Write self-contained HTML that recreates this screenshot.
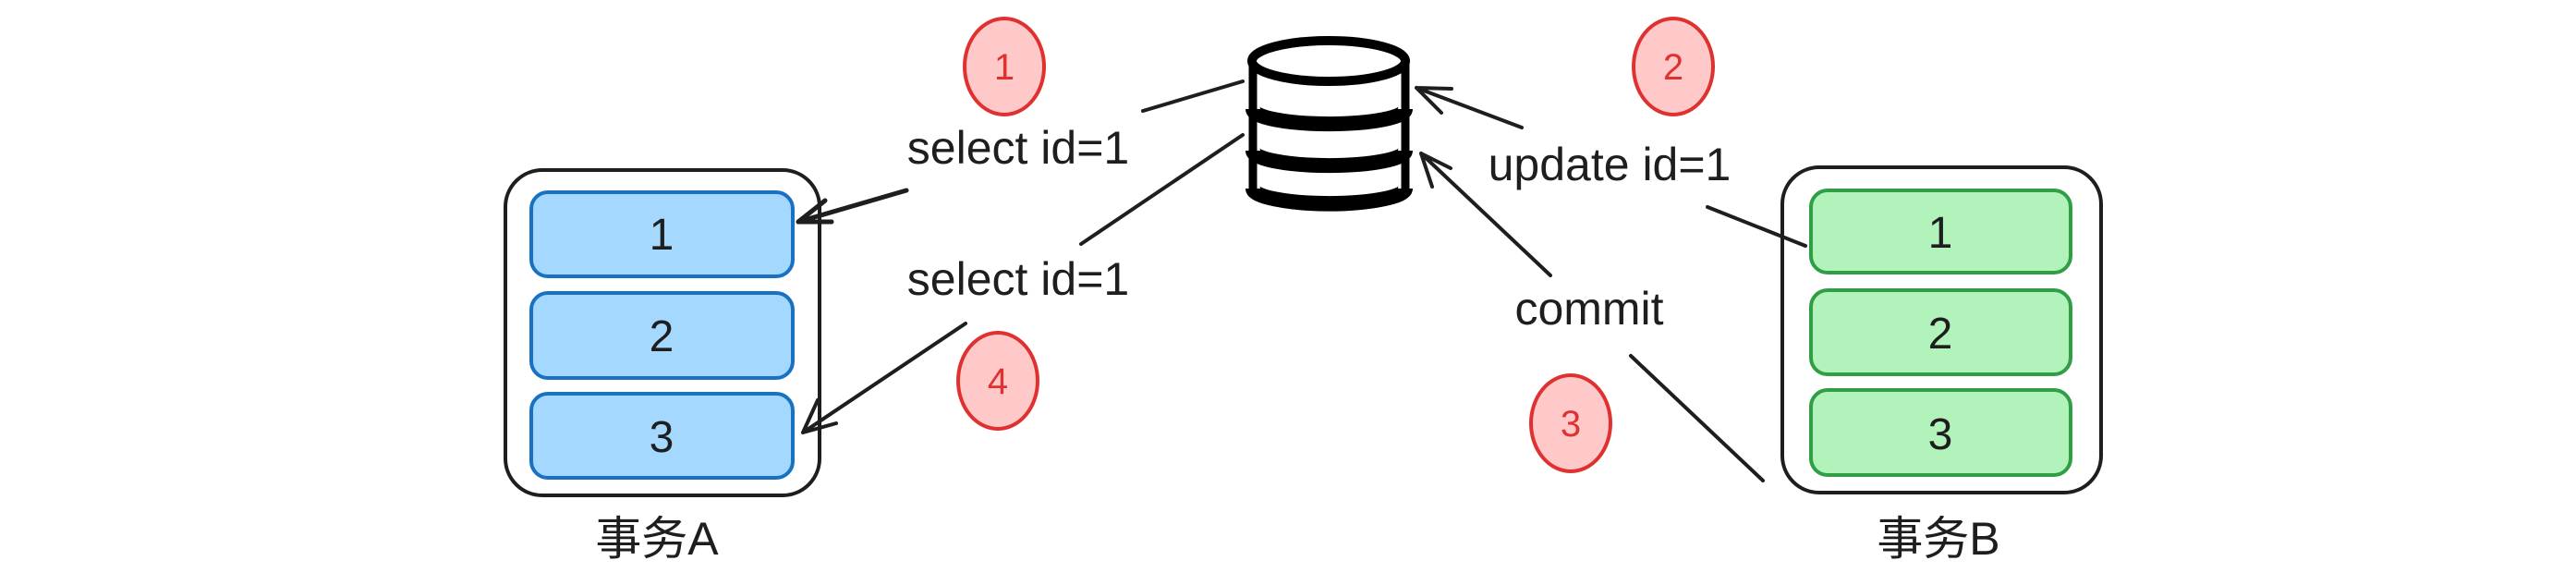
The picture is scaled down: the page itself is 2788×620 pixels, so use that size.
<!DOCTYPE html>
<html><head><meta charset="utf-8"><style>
html,body{margin:0;padding:0;background:#fff;}
svg{display:block}
text{font-family:"Liberation Sans","Noto Sans CJK SC",sans-serif;fill:#1e1e1e}
</style></head><body>
<svg width="2788" height="620" viewBox="0 0 2788 620" xmlns="http://www.w3.org/2000/svg">
<rect width="2788" height="620" fill="#fff"/>
<!-- Box A -->
<rect x="547" y="184" width="340" height="352" rx="40" fill="#fff" stroke="#1e1e1e" stroke-width="4"/>
<rect x="575" y="208" width="283" height="91" rx="18" fill="#a5d8ff" stroke="#1971c2" stroke-width="4"/>
<rect x="575" y="317" width="283" height="92" rx="18" fill="#a5d8ff" stroke="#1971c2" stroke-width="4"/>
<rect x="575" y="426" width="283" height="91" rx="18" fill="#a5d8ff" stroke="#1971c2" stroke-width="4"/>
<text x="716" y="270" font-size="48" text-anchor="middle">1</text>
<text x="716" y="380" font-size="48" text-anchor="middle">2</text>
<text x="716" y="489" font-size="48" text-anchor="middle">3</text>
<text x="711" y="600" font-size="50" text-anchor="middle">事务A</text>
<!-- Box B -->
<rect x="1929" y="181" width="345" height="352" rx="40" fill="#fff" stroke="#1e1e1e" stroke-width="4"/>
<rect x="1960" y="206" width="281" height="89" rx="18" fill="#b2f2bb" stroke="#2f9e44" stroke-width="4"/>
<rect x="1960" y="314" width="281" height="91" rx="18" fill="#b2f2bb" stroke="#2f9e44" stroke-width="4"/>
<rect x="1960" y="422" width="281" height="92" rx="18" fill="#b2f2bb" stroke="#2f9e44" stroke-width="4"/>
<text x="2100" y="268" font-size="48" text-anchor="middle">1</text>
<text x="2100" y="377" font-size="48" text-anchor="middle">2</text>
<text x="2100" y="486" font-size="48" text-anchor="middle">3</text>
<text x="2098" y="600" font-size="50" text-anchor="middle">事务B</text>
<!-- DB -->
<g fill="none" stroke="#000">
<path d="M1356 64 L1356 206 A82 18 0 0 0 1521 206 L1521 64" fill="#fff" stroke-width="9"/>
<ellipse cx="1438" cy="66" rx="83" ry="22" fill="#fff" stroke-width="10"/>
<path d="M1356 118 A82 16 0 0 0 1521 118" stroke-width="16"/>
<path d="M1356 163 A82 16 0 0 0 1521 163" stroke-width="16"/>
<path d="M1356 204 A82 16 0 0 0 1521 204" stroke-width="16"/>
</g>
<!-- red circles -->
<g fill="#ffc9c9" stroke="#e03131" stroke-width="4">
<ellipse cx="1087" cy="72" rx="43" ry="52"/>
<ellipse cx="1811" cy="72" rx="43" ry="52"/>
<ellipse cx="1700" cy="458" rx="43" ry="52"/>
<ellipse cx="1080" cy="412" rx="43" ry="52"/>
</g>
<g font-size="40" text-anchor="middle">
<text x="1087" y="86" style="fill:#e03131">1</text>
<text x="1811" y="86" style="fill:#e03131">2</text>
<text x="1700" y="472" style="fill:#e03131">3</text>
<text x="1080" y="426" style="fill:#e03131">4</text>
</g>
<!-- lines -->
<g stroke="#1e1e1e" stroke-width="4" fill="none" stroke-linecap="round">
<path d="M1345 88 L1237 120"/>
<path d="M981 206 L864 240 M864 240 L893 217 M864 240 L900 240" stroke-width="5"/>
<path d="M1345 146 L1170 264"/>
<path d="M1045 350 L869 468 M869 468 L885 433 M869 468 L905 458"/>
<path d="M1954 266 L1848 224"/>
<path d="M1647 138 L1533 95 M1533 95 L1571 96 M1533 95 L1560 122"/>
<path d="M1908 520 L1765 385"/>
<path d="M1678 298 L1538 166 M1538 166 L1570 182 M1538 166 L1550 202"/>
</g>
<!-- labels -->
<g font-size="50" text-anchor="middle">
<text x="1102" y="177">select id=1</text>
<text x="1102" y="319">select id=1</text>
<text x="1742" y="195">update id=1</text>
<text x="1720" y="351">commit</text>
</g>
</svg>
</body></html>
